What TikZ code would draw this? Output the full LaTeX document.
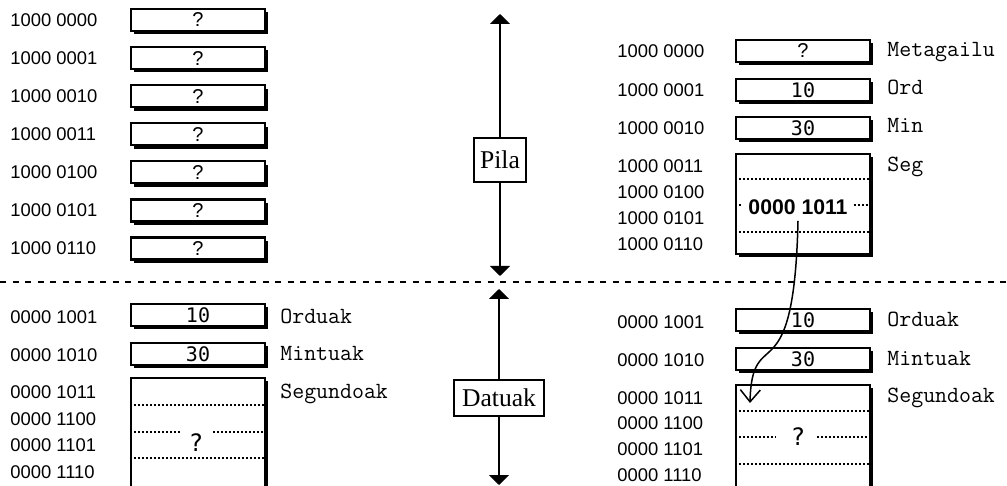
\documentclass[tikz,border=0pt]{standalone}
\usepackage{fontspec}
\usepackage{tikz}
\usetikzlibrary{arrows.meta,shadows,positioning}
\newfontfamily\addrfont{Liberation Sans}
\newfontfamily\valfont{DejaVu Sans Mono}
\newfontfamily\segfont{Liberation Serif}
\tikzset{
  cell/.style={draw,line width=1.1pt,fill=white,inner sep=0pt,minimum width=67pt,minimum height=11pt,
    font=\valfont\fontsize{10}{12}\selectfont,
    drop shadow={shadow xshift=1.7pt,shadow yshift=-1.7pt,opacity=1,fill=black}},
  qcell/.style={font=\addrfont\fontsize{10}{12}\selectfont},
  bigq/.style={inner sep=0pt,font=\valfont\fontsize{12}{14}\selectfont},
  addr/.style={anchor=west,inner sep=0pt,font=\addrfont\fontsize{9.2}{11}\selectfont},
  vname/.style={anchor=base west,inner sep=0pt,font=\ttfamily\fontsize{11.6}{13}\selectfont},
  slot/.style={line width=1.2pt,dash pattern=on 1pt off 1pt},
  divider/.style={line width=1pt,dash pattern=on 3pt off 3.25pt},
  region/.style={draw,line width=0.75pt,fill=white,inner sep=0pt,font=\segfont\fontsize{12.8}{15}\selectfont},
  segarrow/.style={line width=1pt,-{Triangle[length=5pt,width=10pt]}},
}
\begin{document}
\begin{tikzpicture}[x=0.5pt,y=-0.5pt]
  \useasboundingbox (0,0) rectangle (1007,486);
  % stack and data before the call
  \foreach \a [count=\i from 0] in {0000,0001,0010,0011,0100,0101,0110} {
    \node[addr] (la\i) at (10,20+38.1*\i) {1000 \a};
    \node[cell,qcell] (lc\i) at (198,20+38.1*\i) {?};
  }
  \node[cell] (lod) at (198,315) {10};
  \node[cell] (lmi) at (198,354) {30};
  \node[cell,minimum height=71pt] (lsg) at (198,449) {};
  \foreach \a/\y in {1001/317,1010/355,1011/392,1100/419,1101/445,1110/472}
    \node[addr] (ld\a) at (10,\y) {0000 \a};
  \node[vname] (lnod) at (280,323) {Orduak};
  \node[vname] (lnmi) at (280,361) {Mintuak};
  \node[vname] (lnsg) at (280,398) {Segundoak};
  \draw[slot] (lsg.west |- 0,405) -- (lsg.east |- 0,405);
  \draw[slot] (lsg.west |- 0,432) -- (180,432);
  \draw[slot] (213,432) -- (lsg.east |- 0,432);
  \draw[slot] (lsg.west |- 0,458) -- (lsg.east |- 0,458);
  \node[bigq] (lq) at (196,443) {?};

  % stack and data after the call
  \node[addr] (ra0) at (617,51) {1000 0000};
  \node[addr] (ra1) at (617,90) {1000 0001};
  \node[addr] (ra2) at (617,128) {1000 0010};
  \foreach \a/\y in {0011/166,0100/192,0101/218,0110/244}
    \node[addr] (ra\a) at (617,\y) {1000 \a};
  \node[cell,qcell] (rc0) at (803,51) {?};
  \node[cell] (rc1) at (803,90) {10};
  \node[cell] (rc2) at (803,128) {30};
  \node[cell,minimum height=50pt] (rsg) at (803,204) {};
  \node[vname] (rnme) at (887,57) {Metagailu};
  \node[vname] (rnod) at (887,95) {Ord};
  \node[vname] (rnmi) at (887,133) {Min};
  \node[vname] (rnsg) at (887,172) {Seg};
  \node[inner sep=3pt,font=\addrfont\bfseries\fontsize{10.6}{12}\selectfont] (hex) at (798,207) {0000 1011};
  \draw[slot] (rsg.west |- 0,179) -- (rsg.east |- 0,179);
  \draw[slot] (rsg.west |- 0,205) -- (hex.west |- 0,205);
  \draw[slot] (hex.east |- 0,205) -- (rsg.east |- 0,205);
  \draw[slot] (rsg.west |- 0,232) -- (rsg.east |- 0,232);

  \node[cell] (rod) at (803,320) {10};
  \node[cell] (rmi) at (803,359) {30};
  \node[cell,minimum height=71pt] (rsd) at (803,456) {};
  \foreach \a/\y in {1001/322,1010/360,1011/398,1100/423,1101/449,1110/475}
    \node[addr] (rd\a) at (617,\y) {0000 \a};
  \node[vname] (rnod2) at (887,327) {Orduak};
  \node[vname] (rnmi2) at (887,365) {Mintuak};
  \node[vname] (rnsd) at (887,402) {Segundoak};
  \draw[slot] (rsd.west |- 0,411) -- (rsd.east |- 0,411);
  \draw[slot] (rsd.west |- 0,437) -- (775,437);
  \draw[slot] (817,437) -- (rsd.east |- 0,437);
  \draw[slot] (rsd.west |- 0,464) -- (rsd.east |- 0,464);
  \node[bigq] (rq) at (798,437) {?};

  % segments
  \draw[divider] (0,282) -- (1007,282);
  \node[region,minimum width=26pt,minimum height=22pt] (pila) at (500,160) {Pila};
  \coordinate (pilatop) at (500,14);
  \coordinate (pilabot) at (500,276);
  \draw[segarrow] (pila) -- (pilatop);
  \draw[segarrow] (pila) -- (pilabot);
  \node[region,minimum width=45pt,minimum height=18pt] (datuak) at (499,398) {Datuak};
  \coordinate (datop) at (499,289);
  \coordinate (dabot) at (499,485);
  \draw[segarrow] (datuak) -- (datop);
  \draw[segarrow] (datuak) -- (dabot);

  \coordinate (sgtop) at (750,403);
  \draw[line width=0.75pt,-{Straight Barb[length=6pt,width=10pt]}] (hex.south) .. controls (794,400) and (752,320) .. (sgtop);
\end{tikzpicture}
\end{document}
